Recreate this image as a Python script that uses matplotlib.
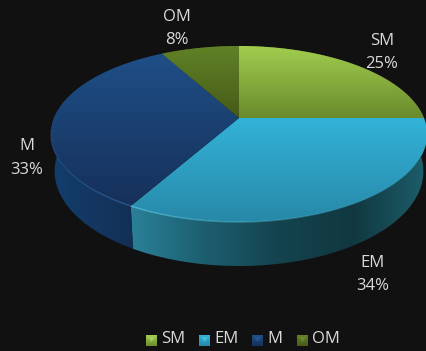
import numpy as np
import matplotlib
matplotlib.use("Agg")
import matplotlib.pyplot as plt
from matplotlib.collections import LineCollection
from matplotlib.colors import LinearSegmentedColormap, to_rgb
from matplotlib.patches import Polygon

# Portfolio shares, clockwise from twelve o'clock
categories = ["SM", "EM", "M", "OM"]
shares = [25, 34, 33, 8]

# Face gradients (far edge to near edge) and side-wall gradients (left to right)
face_colors = {
    "SM": ["#A2CE50", "#6A8A2C"],
    "EM": ["#33B3D8", "#2888A8"],
    "M": ["#1F4F87", "#16305A"],
    "OM": ["#618227", "#465A18"],
}
side_colors = {
    "SM": ["#5A7A28", "#3A5018"],
    "EM": ["#2A8098", "#1C5E6E", "#14434E", "#113840", "#1D5F6C"],
    "M": ["#123E6C", "#14345E", "#122848"],
    "OM": ["#3E5418", "#3E5418"],
}
rim_colors = {"SM": "#B8DC70", "EM": "#5CCDE8", "M": "#2F659F", "OM": "#7A9A3A"}
label_anchor = {
    "SM": (382, 41),
    "EM": (373, 263),
    "M": (27, 146),
    "OM": (177, 17),
}
legend_x = {"SM": 146, "EM": 199, "M": 252, "OM": 297}

BG = "#111111"
TEXT = "#DADADA"
FONT = "Open Sans"

# Perspective disc: apex position, radii and foreshortening
CX, CY = 239.0, 118.0
RX, RY = 185.0, 85.1
K = 0.1818
DEPTH = 44.0
BASE_TAPER = 0.98   # the base outline is slightly narrower than the top
NEAR_WARP = np.deg2rad(3.2)  # camera skew along the rim in the lower-left quadrant


def project(theta):
    """Map clockwise-from-top angles on the unit disc to pixel coordinates."""
    lower_left = (theta > np.pi) & (theta < 1.5 * np.pi)
    t = theta - NEAR_WARP * np.sin(2 * theta) * lower_left
    u, v = np.sin(t), np.cos(t)
    w = 1 + K * v
    return CX + RX * u / w, CY - RY * v / w, w


fig = plt.figure(figsize=(4.27, 3.51), dpi=100, facecolor=BG)
ax = fig.add_axes([0, 0, 1, 1])
ax.set_xlim(0, 427)
ax.set_ylim(351, 0)
ax.axis("off")


def gradient_fill(points, colors, horizontal, zorder):
    """Paint a polygon with a linear gradient across its bounding box."""
    pts = np.asarray(points)
    x0, y0 = pts.min(axis=0)
    x1, y1 = pts.max(axis=0)
    cmap = LinearSegmentedColormap.from_list("g", colors)
    ramp = np.linspace(0, 1, 256)
    data = ramp[None, :] if horizontal else ramp[:, None]
    im = ax.imshow(data, cmap=cmap, extent=(x0, x1, y1, y0), aspect="auto",
                   zorder=zorder, interpolation="bilinear")
    patch = Polygon(pts, closed=True, transform=ax.transData, fc="none", ec="none")
    ax.add_patch(patch)
    im.set_clip_path(patch)


edges = np.cumsum([0] + shares) / sum(shares) * 2 * np.pi
spans = list(zip(categories, edges[:-1], edges[1:]))

# Side walls first, so the top faces cover their back portions
for name, start, end in spans:
    theta = np.linspace(start, end, 160)
    x, y, w = project(theta)
    drop = DEPTH * (1 - K) / w
    base_x = CX + (x - CX) * BASE_TAPER
    wall = np.r_[np.c_[x, y], np.c_[base_x, y + drop][::-1]]
    gradient_fill(wall, side_colors[name], True, 2)

# Top faces, fading from far edge to near edge
for name, start, end in spans:
    theta = np.linspace(start, end, 160)
    x, y, w = project(theta)
    face = np.r_[[[CX, CY]], np.c_[x, y]]
    gradient_fill(face, face_colors[name], False, 3)

# Lit bevel along the near rim, strongest towards the left of the disc
for name, start, end in spans:
    theta = np.linspace(start, end, 160)
    x, y, w = project(theta)
    segs = np.stack([np.c_[x[:-1], y[:-1]], np.c_[x[1:], y[1:]]], axis=1)
    mid = (theta[:-1] + theta[1:]) / 2
    alpha = np.clip((np.pi * 0.95 - np.abs(mid - np.deg2rad(215))) / np.pi, 0, 1) ** 3
    alpha = alpha * (np.cos(mid) < -0.12) * 0.95
    rgba = np.c_[np.tile(to_rgb(rim_colors[name]), (len(mid), 1)), alpha]
    ax.add_collection(LineCollection(segs, colors=rgba, linewidths=1.0, zorder=4))

# Two-line slice labels
for name, share in zip(categories, shares):
    lx, ly = label_anchor[name]
    ax.text(lx, ly, name, color=TEXT, fontsize=12, family=FONT,
            ha="center", va="center", zorder=5)
    ax.text(lx, ly + 23.5, f"{share}%", color=TEXT, fontsize=12, family=FONT,
            ha="center", va="center", zorder=5)

# Legend row with bevelled swatches
for name in categories:
    x0 = legend_x[name]
    swatch = [(x0, 335), (x0 + 11, 335), (x0 + 11, 346), (x0, 346)]
    gradient_fill(swatch, [face_colors[name][0], face_colors[name][1]], False, 5)
    ax.fill([x0 + 2, x0 + 9, x0 + 5.5], [337, 337, 342], color=rim_colors[name],
            alpha=0.55, lw=0, zorder=6)
    ax.text(x0 + 15, 339, name, color=TEXT, fontsize=12, family=FONT,
            ha="left", va="center", zorder=5)

ax.set_xlim(0, 427)
ax.set_ylim(351, 0)
fig.savefig("out.png", dpi=100, facecolor=BG)
